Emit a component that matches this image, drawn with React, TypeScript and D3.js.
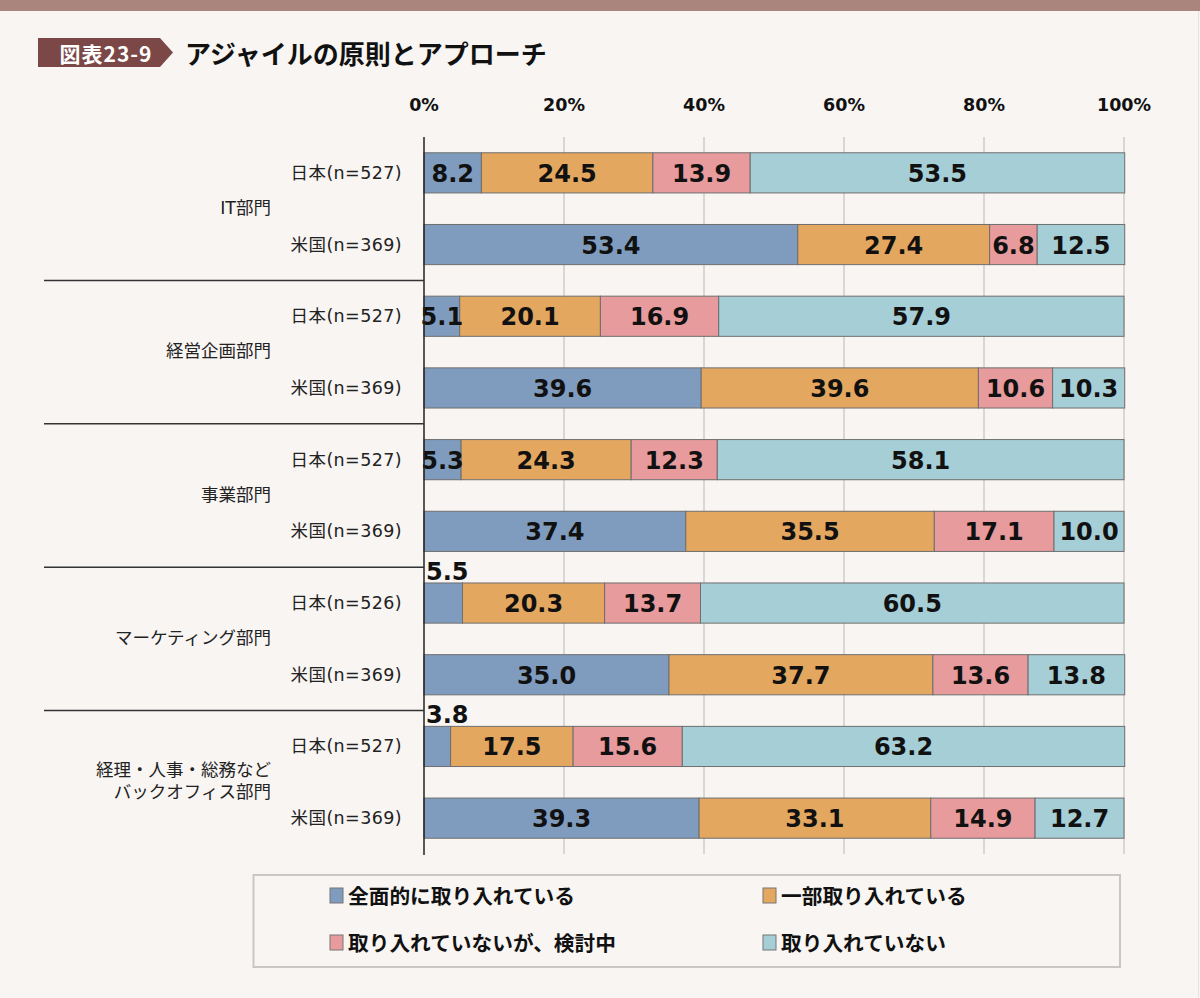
import React from "react";
import * as d3 from "d3";

const series = ["全面的に取り入れている", "一部取り入れている", "取り入れていないが、検討中", "取り入れていない"];
const colors = ["#7f9cbe", "#e4a75f", "#e89b9c", "#a6ced6"];
const groups = [["IT部門"], ["経営企画部門"], ["事業部門"], ["マーケティング部門"], ["経理・人事・総務など", "バックオフィス部門"]];
const rowLabels = [
  "日本(n=527)", "米国(n=369)",
  "日本(n=527)", "米国(n=369)",
  "日本(n=527)", "米国(n=369)",
  "日本(n=526)", "米国(n=369)",
  "日本(n=527)", "米国(n=369)",
];
const fully = [8.2, 53.4, 5.1, 39.6, 5.3, 37.4, 5.5, 35.0, 3.8, 39.3];
const partly = [24.5, 27.4, 20.1, 39.6, 24.3, 35.5, 20.3, 37.7, 17.5, 33.1];
const considering = [13.9, 6.8, 16.9, 10.6, 12.3, 17.1, 13.7, 13.6, 15.6, 14.9];
const notAdopted = [53.5, 12.5, 57.9, 10.3, 58.1, 10.0, 60.5, 13.8, 63.2, 12.7];
const labelAbove = [6, 8]; // rows whose first-segment label sits above the bar
const ticks = [0, 20, 40, 60, 80, 100];

const W = 1200, H = 998;
const NUM_FONT = "DejaVu Sans, sans-serif";
const JP_FONT = "DejaVu Sans, Noto Sans CJK JP, sans-serif";
const JP_ONLY = "Noto Sans CJK JP, sans-serif";

export default function App() {
  const x = d3.scaleLinear().domain([0, 100]).range([424, 1124]);
  const rows = d3.range(rowLabels.length);
  const y = d3.scaleBand<number>().domain(rows).range([137, 854]).paddingInner(0.44).paddingOuter(0.22);
  const bw = y.bandwidth();
  const step = y.step();
  const valuesBySeries = [fully, partly, considering, notAdopted];

  const segs: { row: number; s: number; x0: number; x1: number; v: number }[] = [];
  rows.forEach((r) => {
    let acc = 0;
    valuesBySeries.forEach((arr, s) => {
      const v = arr[r];
      segs.push({ row: r, s, x0: acc, x1: acc + v, v });
      acc += v;
    });
  });

  const sepY = (i: number) => (y(i * 2 + 1) as number) + bw + (step - bw) / 2;

  return (
    <div>
      <style>{`body{margin:0;background:#f8f5f3;}`}</style>
      <svg width={W} height={H} style={{ display: "block", background: "#f8f5f3" }}>
        <rect x={0} y={0} width={W} height={11} fill="#a9857e" />
        <line x1={1198.5} y1={11} x2={1198.5} y2={H} stroke="#e6e2e0" strokeWidth={1} />
        {/* title badge */}
        <path d="M38,38 L160,38 L173,52.5 L160,67 L38,67 Z" fill="#7b4747" />
        <text x={106} y={53} textAnchor="middle" dominantBaseline="central" fill="#fff" fontFamily={JP_ONLY} fontWeight="bold" fontSize={21} letterSpacing={1}>図表23-9</text>
        <text x={185} y={52} dominantBaseline="central" fill="#111" fontFamily={JP_ONLY} fontWeight="bold" fontSize={26}>アジャイルの原則とアプローチ</text>

        {/* grid */}
        {ticks.map((t) => (
          <g key={t}>
            {t > 0 && <line x1={x(t)} x2={x(t)} y1={137} y2={854} stroke="#cfcccb" strokeWidth={1.5} />}
            <text x={x(t)} y={105} textAnchor="middle" dominantBaseline="central" fontFamily={NUM_FONT} fontWeight="bold" fontSize={17.5} fill="#111">{t}%</text>
          </g>
        ))}

        {/* bars */}
        {segs.map((d, i) => (
          <rect key={i} x={x(d.x0)} y={y(d.row)} width={x(d.x1) - x(d.x0)} height={bw} fill={colors[d.s]} stroke="#6e6e6e" strokeWidth={1} />
        ))}
        {segs.map((d, i) => {
          const above = d.s === 0 && labelAbove.includes(d.row);
          if (above) {
            return (
              <text key={"l" + i} x={x(0) + 2} y={(y(d.row) as number) - 3} fontFamily={NUM_FONT} fontWeight="bold" fontSize={24} fill="#111">{d.v.toFixed(1)}</text>
            );
          }
          return (
            <text key={"l" + i} x={(x(d.x0) + x(d.x1)) / 2} y={(y(d.row) as number) + bw / 2 + 1} textAnchor="middle" dominantBaseline="central" fontFamily={NUM_FONT} fontWeight="bold" fontSize={24} fill="#111">{d.v.toFixed(1)}</text>
          );
        })}

        {/* axis line */}
        <line x1={424} x2={424} y1={137} y2={855} stroke="#222" strokeWidth={1.5} />

        {/* row labels */}
        {rows.map((r) => (
          <text key={r} x={402} y={(y(r) as number) + bw / 2} textAnchor="end" dominantBaseline="central" fontFamily={JP_FONT} fontSize={17.5} letterSpacing={0.4} fill="#222">{rowLabels[r]}</text>
        ))}
        {/* group labels */}
        {groups.map((g, i) => {
          const mid = ((y(i * 2) as number) + (y(i * 2 + 1) as number) + bw) / 2 - 3;
          const lh = 22;
          return (
            <text key={i} textAnchor="end" fontFamily={JP_FONT} fontSize={17.5} fill="#222">
              {g.map((line, j) => (
                <tspan key={j} x={271} y={mid + (j - (g.length - 1) / 2) * lh + 2} dominantBaseline="central">{line}</tspan>
              ))}
            </text>
          );
        })}
        {/* separators */}
        {d3.range(groups.length - 1).map((i) => (
          <line key={i} x1={44} x2={424} y1={sepY(i)} y2={sepY(i)} stroke="#333" strokeWidth={1.5} />
        ))}

        {/* legend */}
        <rect x={253.5} y={875} width={866.5} height={92} fill="none" stroke="#c9c7c6" strokeWidth={2} />
        {series.map((s, i) => {
          const lx = i % 2 === 0 ? 330 : 763;
          const ly = i < 2 ? 895 : 942;
          return (
            <g key={s}>
              <rect x={lx} y={ly - 7} width={13} height={15} fill={colors[i]} stroke="#777" strokeWidth={1} />
              <text x={lx + 18} y={ly} dominantBaseline="central" fontFamily={JP_ONLY} fontWeight="bold" fontSize={20.7} fill="#111">{s}</text>
            </g>
          );
        })}
      </svg>
    </div>
  );
}
